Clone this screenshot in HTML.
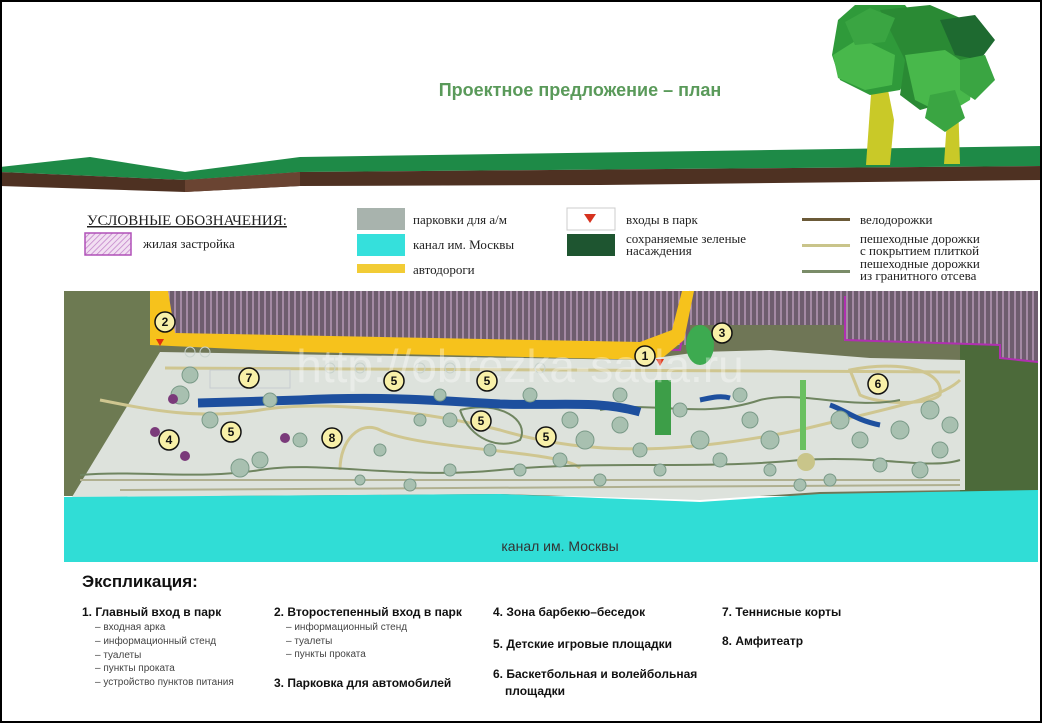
<!DOCTYPE html>
<html><head><meta charset="utf-8"><style>
html,body{margin:0;padding:0;background:#fff}
body{width:1042px;height:723px;overflow:hidden;position:relative;font-family:"Liberation Sans",sans-serif}
.frame{position:absolute;left:0;top:0;width:1038px;height:719px;border:2px solid #000}
</style></head><body>
<svg width="1042" height="723" style="position:absolute;left:0;top:0" font-family="Liberation Sans, sans-serif">
<defs>
<pattern id="hatch" width="6" height="6" patternUnits="userSpaceOnUse">
<rect width="6" height="6" fill="#6e5d6e"/>
<line x1="1" y1="0" x2="1" y2="6" stroke="#c9a9c9" stroke-width="1.2"/>
</pattern>
<pattern id="hatch2" width="4" height="4" patternUnits="userSpaceOnUse" patternTransform="rotate(45)">
<rect width="4" height="4" fill="#f2dff2"/>
<line x1="0" y1="0" x2="0" y2="4" stroke="#c080c8" stroke-width="1.5"/>
</pattern>
</defs>
<!-- header ground -->
<polygon points="0,167 90,157 185,172 300,157 1042,146 1042,166 300,172 185,180 0,172" fill="#1e8a47"/>
<polygon points="0,172 185,180 300,172 1042,166 1042,180 600,185 300,186 185,192 0,186" fill="#4e3122"/>
<polygon points="185,180 300,172 300,186 185,192" fill="#6a4432"/>
<text x="580" y="96" text-anchor="middle" font-size="18" font-weight="bold" fill="#5a9a5a">Проектное предложение – план</text>
<!-- trees -->
<polygon points="866,165 872,80 886,80 894,120 890,165" fill="#c9c928"/>
<polygon points="944,164 948,105 958,100 960,164" fill="#c9c928"/>
<polygon points="838,20 855,5 905,5 925,30 920,60 900,90 870,95 840,80 832,55" fill="#2f9a3a"/>
<polygon points="833,55 860,38 895,55 892,85 865,90 838,78" fill="#48b84b"/>
<polygon points="880,10 930,5 965,20 985,45 975,75 955,100 920,110 900,95 905,60" fill="#2a8a34"/>
<polygon points="905,55 945,50 975,70 970,100 945,115 915,100" fill="#48b84b"/>
<polygon points="940,20 975,15 995,40 980,60 955,55" fill="#1e6a30"/>
<polygon points="960,60 985,55 995,80 975,100 960,90" fill="#3aa542"/>
<polygon points="930,95 955,90 965,118 945,132 925,118" fill="#3aa542"/>
<polygon points="845,22 870,8 895,18 885,42 855,45" fill="#3aa542"/>
<!-- legend -->
<text x="87" y="225" font-family="Liberation Serif, serif" font-size="15" fill="#222" text-decoration="underline">УСЛОВНЫЕ ОБОЗНАЧЕНИЯ:</text>
<rect x="85" y="233" width="46" height="22" fill="url(#hatch2)" stroke="#b050b8" stroke-width="1.5"/>
<text x="143" y="248" font-family="Liberation Serif, serif" font-size="13" fill="#222">жилая застройка</text>
<rect x="357" y="208" width="48" height="22" fill="#a8b3ad"/>
<text x="413" y="224" font-family="Liberation Serif, serif" font-size="13" fill="#222">парковки для а/м</text>
<rect x="357" y="234" width="48" height="22" fill="#35e0dc"/>
<text x="413" y="249" font-family="Liberation Serif, serif" font-size="13" fill="#222">канал им. Москвы</text>
<rect x="357" y="264" width="48" height="9" fill="#f2cc35"/>
<text x="413" y="274" font-family="Liberation Serif, serif" font-size="13" fill="#222">автодороги</text>
<rect x="567" y="208" width="48" height="22" fill="#fff" stroke="#ccc"/>
<polygon points="584,214 596,214 590,223" fill="#d6321e"/>
<text x="626" y="224" font-family="Liberation Serif, serif" font-size="13" fill="#222">входы в парк</text>
<rect x="567" y="234" width="48" height="22" fill="#1e5530"/>
<text x="626" y="243" font-family="Liberation Serif, serif" font-size="13" fill="#222">сохраняемые зеленые</text>
<text x="626" y="255" font-family="Liberation Serif, serif" font-size="13" fill="#222">насаждения</text>
<rect x="802" y="218" width="48" height="3" fill="#6b5a38"/>
<text x="860" y="224" font-family="Liberation Serif, serif" font-size="13" fill="#222">велодорожки</text>
<rect x="802" y="244" width="48" height="3" fill="#c9c48a"/>
<text x="860" y="243" font-family="Liberation Serif, serif" font-size="13" fill="#222">пешеходные дорожки</text>
<text x="860" y="255" font-family="Liberation Serif, serif" font-size="13" fill="#222">с покрытием плиткой</text>
<rect x="802" y="270" width="48" height="3" fill="#7a8c68"/>
<text x="860" y="268" font-family="Liberation Serif, serif" font-size="13" fill="#222">пешеходные дорожки</text>
<text x="860" y="280" font-family="Liberation Serif, serif" font-size="13" fill="#222">из гранитного отсева</text>
<!-- map background -->
<rect x="64" y="291" width="974" height="205" fill="#6f7656"/>
<rect x="64" y="291" width="95" height="205" fill="#6d7a52"/>
<rect x="960" y="330" width="78" height="166" fill="#4c6a3a"/>
<polygon points="158,291 1038,291 1038,362 1000,358 1000,345 845,340 845,325 690,325 690,291" fill="url(#hatch)"/>
<polygon points="158,291 690,291 690,345 158,345" fill="url(#hatch)"/>
<path d="M845,296 L845,340 L1000,345 L1000,358 L1038,362" fill="none" stroke="#b030b0" stroke-width="2"/>
<path d="M165,291 L165,340 L680,350 L690,291" fill="none" stroke="#b030b0" stroke-width="2"/>
<polygon points="150,291 168,291 175,333 640,342 672,330 682,291 694,291 684,340 660,360 300,352 150,345" fill="#f6c21c"/>
<!-- park polygon -->
<polygon points="160,352 640,360 700,352 770,350 870,358 965,360 965,490 820,492 700,500 500,494 72,497" fill="#dde2dc"/>
<!-- canal -->
<polygon points="64,497 500,494 700,502 820,494 1038,490 1038,562 64,562" fill="#30ddd6"/>
<text x="560" y="551" text-anchor="middle" font-size="14" fill="#333">канал им. Москвы</text>
<!-- paths -->
<g fill="none" stroke="#cfc690" stroke-width="3">
<path d="M165,368 L960,372"/>
<path d="M100,400 C150,410 200,420 260,410 C320,400 420,410 500,430 C600,460 700,450 800,430 C880,410 940,400 960,380"/>
<path d="M340,470 C340,440 360,420 380,430 C420,450 560,450 580,468"/>
<path d="M850,370 C900,360 945,370 940,395 C930,405 880,405 860,395 Z"/>
</g>
<g fill="none" stroke="#6f8560" stroke-width="2">
<path d="M80,475 C140,470 200,480 260,470 C320,460 400,480 500,470 C600,460 700,470 800,460 C880,455 930,470 960,460"/>
<path d="M80,480 L960,480" stroke="#b0b090"/>
<path d="M120,490 L960,485" stroke="#b0b090"/>
<path d="M460,410 C500,400 530,420 520,440 C500,450 470,440 460,410"/>
<path d="M600,410 C650,400 700,420 760,400 C800,390 850,410 900,400"/>
</g>
<!-- water -->
<path d="M198,403 L300,400 C380,396 430,400 500,404 C560,406 600,400 640,412" stroke="#1d4f9e" stroke-width="9" fill="none"/>
<path d="M700,400 C710,398 720,395 730,398" stroke="#1d4f9e" stroke-width="5" fill="none"/>
<path d="M830,405 C845,410 855,420 880,425" stroke="#1d4f9e" stroke-width="5" fill="none"/>
<!-- green strips -->
<rect x="655" y="380" width="16" height="55" fill="#3d9e48"/>
<rect x="800" y="380" width="6" height="70" fill="#6ac060"/>
<circle cx="806" cy="462" r="9" fill="#c9c58a"/>
<ellipse cx="700" cy="345" rx="14" ry="20" fill="#3daa50"/>
<!-- trees on map -->
<g fill="#a8c0b0" stroke="#7a9a88" stroke-width="1">
<circle cx="180" cy="395" r="9"/><circle cx="190" cy="375" r="8"/><circle cx="240" cy="468" r="9"/><circle cx="260" cy="460" r="8"/>
<circle cx="300" cy="440" r="7"/><circle cx="420" cy="420" r="6"/><circle cx="450" cy="420" r="7"/><circle cx="490" cy="450" r="6"/>
<circle cx="570" cy="420" r="8"/><circle cx="585" cy="440" r="9"/><circle cx="620" cy="425" r="8"/><circle cx="640" cy="450" r="7"/>
<circle cx="700" cy="440" r="9"/><circle cx="720" cy="460" r="7"/><circle cx="750" cy="420" r="8"/><circle cx="770" cy="440" r="9"/>
<circle cx="840" cy="420" r="9"/><circle cx="860" cy="440" r="8"/><circle cx="900" cy="430" r="9"/><circle cx="930" cy="410" r="9"/>
<circle cx="940" cy="450" r="8"/><circle cx="880" cy="465" r="7"/><circle cx="620" cy="395" r="7"/><circle cx="560" cy="460" r="7"/>
<circle cx="380" cy="450" r="6"/><circle cx="450" cy="470" r="6"/><circle cx="660" cy="470" r="6"/><circle cx="770" cy="470" r="6"/>
<circle cx="830" cy="480" r="6"/><circle cx="360" cy="480" r="5"/>
<circle cx="270" cy="400" r="7"/><circle cx="210" cy="420" r="8"/><circle cx="440" cy="395" r="6"/><circle cx="530" cy="395" r="7"/>
<circle cx="740" cy="395" r="7"/><circle cx="920" cy="470" r="8"/><circle cx="950" cy="425" r="8"/><circle cx="680" cy="410" r="7"/>
<circle cx="800" cy="485" r="6"/><circle cx="410" cy="485" r="6"/><circle cx="520" cy="470" r="6"/><circle cx="600" cy="480" r="6"/>
</g>
<g fill="none" stroke="#c8d2cc"><circle cx="190" cy="352" r="5"/><circle cx="205" cy="352" r="5"/><circle cx="330" cy="368" r="5"/><circle cx="360" cy="368" r="5"/><circle cx="420" cy="368" r="5"/><circle cx="450" cy="368" r="5"/><circle cx="540" cy="368" r="5"/></g>
<g fill="#7a3a7a"><circle cx="173" cy="399" r="5"/><circle cx="155" cy="432" r="5"/><circle cx="185" cy="456" r="5"/><circle cx="285" cy="438" r="5"/></g>
<rect x="210" y="370" width="80" height="18" fill="none" stroke="#c6ccd0"/>
<!-- entrances -->
<polygon points="156,339 164,339 160,346" fill="#e03010"/>
<polygon points="656,359 664,359 660,366" fill="#e03010"/>
<!-- watermark -->
<text x="520" y="382" text-anchor="middle" font-size="46" fill="#ffffff" fill-opacity="0.35">http://obrezka-sada.ru</text>
<!-- markers -->
<g font-size="12" font-weight="bold" text-anchor="middle" fill="#111">
<g stroke="#111" stroke-width="1.5" fill="#f8f0a8">
<circle cx="165" cy="322" r="10"/><circle cx="645" cy="356" r="10"/><circle cx="722" cy="333" r="10"/><circle cx="249" cy="378" r="10"/>
<circle cx="394" cy="381" r="10"/><circle cx="487" cy="381" r="10"/><circle cx="878" cy="384" r="10"/><circle cx="481" cy="421" r="10"/>
<circle cx="169" cy="440" r="10"/><circle cx="231" cy="432" r="10"/><circle cx="332" cy="438" r="10"/><circle cx="546" cy="437" r="10"/>
</g>
<text x="165" y="326">2</text><text x="645" y="360">1</text><text x="722" y="337">3</text><text x="249" y="382">7</text>
<text x="394" y="385">5</text><text x="487" y="385">5</text><text x="878" y="388">6</text><text x="481" y="425">5</text>
<text x="169" y="444">4</text><text x="231" y="436">5</text><text x="332" y="442">8</text><text x="546" y="441">5</text>
</g>
<!-- explication -->
<text x="82" y="587" font-size="17" font-weight="bold" fill="#111">Экспликация:</text>
<g font-size="12" fill="#111" font-weight="bold">
<text x="82" y="616">1. Главный вход в парк</text>
<text x="274" y="616">2. Второстепенный вход в парк</text>
<text x="274" y="687">3. Парковка для автомобилей</text>
<text x="493" y="616">4. Зона барбекю–беседок</text>
<text x="493" y="648">5. Детские игровые площадки</text>
<text x="493" y="678">6. Баскетбольная и волейбольная</text>
<text x="505" y="695">площадки</text>
<text x="722" y="616">7. Теннисные корты</text>
<text x="722" y="645">8. Амфитеатр</text>
</g>
<g font-size="10" fill="#444">
<text x="95" y="630">– входная арка</text>
<text x="95" y="644">– информационный стенд</text>
<text x="95" y="658">– туалеты</text>
<text x="95" y="671">– пункты проката</text>
<text x="95" y="685">– устройство пунктов питания</text>
<text x="286" y="630">– информационный стенд</text>
<text x="286" y="644">– туалеты</text>
<text x="286" y="657">– пункты проката</text>
</g>
</svg>
<div class="frame"></div>
</body></html>
